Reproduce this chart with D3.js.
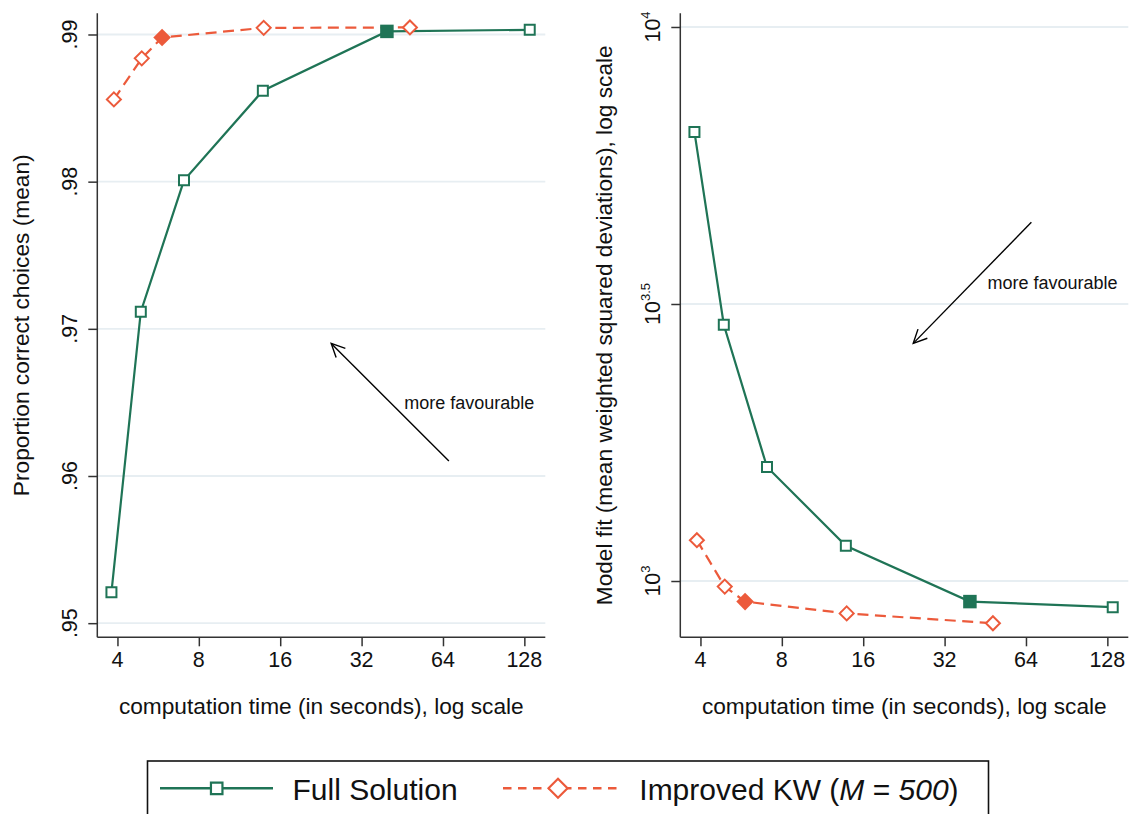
<!DOCTYPE html>
<html>
<head>
<meta charset="utf-8">
<script src="https://cdn.jsdelivr.net/npm/d3@7"></script>
<style>
  html, body { margin: 0; padding: 0; background: #fff; }
  svg { display: block; font-family: "Liberation Sans", Arial, Helvetica, sans-serif; }
</style>
</head>
<body>
<svg id="chart" width="1129" height="814"></svg>
<script>
// ---------------- data ----------------
const seriesNames = ["Full Solution", "Improved KW"];
const fullTime = [3.80, 4.88, 7.05, 13.8, 39.7, 134];
const fullProp = [0.95210, 0.97116, 0.98009, 0.98618, 0.99021, 0.99032];
const fullFit  = [6465, 2901, 1606, 1158, 918, 897];
const fullHighlight = 4;

const kwTime = [3.88, 4.92, 5.85, 13.9, 48.3];
const kwProp = [0.98559, 0.98838, 0.98980, 0.99045, 0.99048];
const kwFit  = [1185, 977, 918, 874, 839];
const kwHighlight = 2;

const xTicks = [4, 8, 16, 32, 64, 128];
const leftYTicks = [0.95, 0.96, 0.97, 0.98, 0.99];
const leftYTickLabels = [".95", ".96", ".97", ".98", ".99"];
const rightYTickExps = [3, 3.5, 4];
const rightYTickLabels = ["3", "3.5", "4"];

const xTitle = "computation time (in seconds), log scale";
const leftYTitle = "Proportion correct choices (mean)";
const rightYTitle = "Model fit (mean weighted squared deviations), log scale";
const annotationText = "more favourable";

// annotation arrows in data coordinates [from, to]
const leftArrow = [[67.3, 0.96102], [24.7, 0.96901]];
const leftNote = [46.0, 0.96498];
const rightArrow = [[67.0, 4441], [24.5, 2685]];
const rightNote = [46.1, 3454];

// ---------------- styles ----------------
const GREEN = "#1f7456";
const ORANGE = "#ec5a3b";
const AXIS = "#333333";
const GRID = "#e7eef2";

const svg = d3.select("#chart");

const plotTop = 13.3, plotBottom = 637.3;
const panels = [
  { left: 97.3, right: 545.3, kind: "prop" },
  { left: 680.3, right: 1128.3, kind: "fit" }
];

function squarePath(s) { const h = s / 2; return `M${-h},${-h}H${h}V${h}H${-h}Z`; }
function diamondPath(r) { return `M0,${-r}L${r},0L0,${r}L${-r},0Z`; }

panels.forEach(p => {
  const g = svg.append("g");
  const x = d3.scaleLog().base(2).domain([3.369, 153.0]).range([p.left, p.right]);
  let y;
  if (p.kind === "prop") {
    y = d3.scaleLinear().domain([0.94904, 0.99144]).range([plotBottom, plotTop]);
  } else {
    y = d3.scaleLog().domain([Math.pow(10, 2.8984), Math.pow(10, 4.0247)]).range([plotBottom, plotTop]);
  }
  const yTickVals = p.kind === "prop" ? leftYTicks : rightYTickExps.map(e => Math.pow(10, e));

  // gridlines
  g.append("g").selectAll("line").data(yTickVals).join("line")
    .attr("x1", p.left).attr("x2", p.right)
    .attr("y1", d => y(d)).attr("y2", d => y(d))
    .attr("stroke", GRID).attr("stroke-width", 1.8);

  // y axis
  const yAxis = d3.axisLeft(y).tickValues(yTickVals).tickSize(9).tickFormat("");
  const ya = g.append("g").attr("transform", `translate(${p.left},0)`).call(yAxis);
  ya.select(".domain").attr("stroke", AXIS).attr("stroke-width", 1.5).attr("d", `M0,${plotTop}V${plotBottom}`);
  ya.selectAll(".tick line").attr("stroke", AXIS).attr("stroke-width", 1.5);

  // y tick labels (rotated)
  if (p.kind === "prop") {
    g.append("g").selectAll("text").data(leftYTicks).join("text")
      .attr("transform", d => `translate(${p.left - 20},${y(d)}) rotate(-90)`)
      .attr("text-anchor", "middle")
      .attr("font-size", 21.5).attr("fill", "#111")
      .text((d, i) => leftYTickLabels[i]);
  } else {
    const t = g.append("g").selectAll("text").data(rightYTickExps).join("text")
      .attr("transform", d => `translate(${p.left - 20},${y(Math.pow(10, d))}) rotate(-90)`)
      .attr("text-anchor", "middle")
      .attr("font-size", 21.5).attr("fill", "#111");
    t.append("tspan").text("10");
    t.append("tspan").attr("dy", -10).attr("font-size", 13).text((d, i) => rightYTickLabels[i]);
  }

  // x axis
  const xAxis = d3.axisBottom(x).tickValues(xTicks).tickSize(9).tickFormat("");
  const xa = g.append("g").attr("transform", `translate(0,${plotBottom})`).call(xAxis);
  xa.select(".domain").attr("stroke", AXIS).attr("stroke-width", 1.5).attr("d", `M${p.left},0H${p.right}`);
  xa.selectAll(".tick line").attr("stroke", AXIS).attr("stroke-width", 1.5);
  g.append("g").selectAll("text").data(xTicks).join("text")
    .attr("x", d => x(d)).attr("y", 667)
    .attr("text-anchor", "middle").attr("font-size", 21.5).attr("fill", "#111")
    .text(d => d);

  // axis titles
  g.append("text").attr("x", (p.left + p.right) / 2).attr("y", 714)
    .attr("text-anchor", "middle").attr("font-size", 22.7).attr("fill", "#111")
    .text(xTitle);
  g.append("text")
    .attr("transform", `translate(${p.left - 68},${(plotTop + plotBottom) / 2}) rotate(-90)`)
    .attr("text-anchor", "middle").attr("font-size", 22.7).attr("fill", "#111")
    .text(p.kind === "prop" ? leftYTitle : rightYTitle);

  // annotation
  const arr = p.kind === "prop" ? leftArrow : rightArrow;
  const note = p.kind === "prop" ? leftNote : rightNote;
  const x1 = x(arr[0][0]), y1 = y(arr[0][1]), x2 = x(arr[1][0]), y2 = y(arr[1][1]);
  const ang = Math.atan2(y2 - y1, x2 - x1);
  const hl = 15, ha = 0.45;
  g.append("line").attr("x1", x1).attr("y1", y1).attr("x2", x2).attr("y2", y2)
    .attr("stroke", "#000").attr("stroke-width", 1.4);
  g.append("path")
    .attr("d", `M${x2 - hl * Math.cos(ang - ha)},${y2 - hl * Math.sin(ang - ha)}L${x2},${y2}L${x2 - hl * Math.cos(ang + ha)},${y2 - hl * Math.sin(ang + ha)}`)
    .attr("fill", "none").attr("stroke", "#000").attr("stroke-width", 1.4);
  g.append("text").attr("x", x(note[0])).attr("y", y(note[1]))
    .attr("dominant-baseline", "central").attr("font-size", 18).attr("fill", "#111")
    .text(annotationText);

  // series
  const fullVals = p.kind === "prop" ? fullProp : fullFit;
  const kwVals = p.kind === "prop" ? kwProp : kwFit;
  const fullPts = fullTime.map((t, i) => [x(t), y(fullVals[i])]);
  const kwPts = kwTime.map((t, i) => [x(t), y(kwVals[i])]);

  g.append("path").attr("d", d3.line()(kwPts))
    .attr("fill", "none").attr("stroke", ORANGE).attr("stroke-width", 2.2).attr("stroke-dasharray", "11,6.5");
  g.append("path").attr("d", d3.line()(fullPts))
    .attr("fill", "none").attr("stroke", GREEN).attr("stroke-width", 2.2);

  g.append("g").selectAll("path").data(kwPts).join("path")
    .attr("transform", d => `translate(${d[0]},${d[1]})`)
    .attr("d", (d, i) => i === kwHighlight ? diamondPath(8.8) : diamondPath(7))
    .attr("fill", (d, i) => i === kwHighlight ? ORANGE : "#fff")
    .attr("stroke", ORANGE).attr("stroke-width", (d, i) => i === kwHighlight ? 0 : 2);

  g.append("g").selectAll("path").data(fullPts).join("path")
    .attr("transform", d => `translate(${d[0]},${d[1]})`)
    .attr("d", (d, i) => i === fullHighlight ? squarePath(13.5) : squarePath(10))
    .attr("fill", (d, i) => i === fullHighlight ? GREEN : "#fff")
    .attr("stroke", GREEN).attr("stroke-width", (d, i) => i === fullHighlight ? 0 : 2);
});

// ---------------- legend ----------------
const lg = svg.append("g");
lg.append("rect").attr("x", 147.5).attr("y", 761).attr("width", 841).attr("height", 80)
  .attr("fill", "#fff").attr("stroke", "#111").attr("stroke-width", 1.6);
const legY = 788.3;
// Full Solution
lg.append("line").attr("x1", 160).attr("x2", 273).attr("y1", legY).attr("y2", legY)
  .attr("stroke", GREEN).attr("stroke-width", 2.4);
lg.append("path").attr("transform", `translate(216.7,${legY})`).attr("d", squarePath(11.5))
  .attr("fill", "#fff").attr("stroke", GREEN).attr("stroke-width", 2.2);
lg.append("text").attr("x", 292.5).attr("y", 800).attr("font-size", 30).attr("fill", "#111")
  .text(seriesNames[0]);
// Improved KW
lg.append("line").attr("x1", 503).attr("x2", 617).attr("y1", legY).attr("y2", legY)
  .attr("stroke", ORANGE).attr("stroke-width", 2.4).attr("stroke-dasharray", "8.5,6.5");
lg.append("path").attr("transform", `translate(558,${legY})`).attr("d", diamondPath(9.5))
  .attr("fill", "#fff").attr("stroke", ORANGE).attr("stroke-width", 2.2);
const kt = lg.append("text").attr("x", 639.3).attr("y", 800).attr("font-size", 30).attr("fill", "#111");
kt.append("tspan").text(seriesNames[1] + " (");
kt.append("tspan").attr("font-style", "italic").text("M");
kt.append("tspan").text(" = ");
kt.append("tspan").attr("font-style", "italic").text("500");
kt.append("tspan").text(")");
</script>
</body>
</html>
